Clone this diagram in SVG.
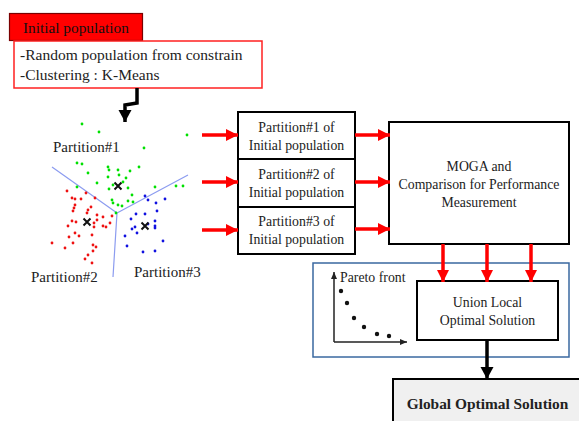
<svg xmlns="http://www.w3.org/2000/svg" width="579" height="421" viewBox="0 0 579 421">
<defs>
<style>
text{font-family:"Liberation Serif","Times New Roman",serif;font-size:14px;fill:#222;}
.box{fill:#fff;stroke:#000;stroke-width:2;}
.c{text-anchor:middle;font-size:13.8px;}
.lbl{font-size:15px;}
.red{stroke:#ff0000;stroke-width:3.5;fill:none;}
.blk{stroke:#000;stroke-width:3.5;fill:none;}
.g{fill:#00e000;}
.r{fill:#ee1111;}
.b{fill:#1010e0;}
.sep{stroke:#8c9cf0;stroke-width:1.2;fill:none;}
.x{stroke:#111;stroke-width:2;}
</style>
<marker id="ra" markerUnits="userSpaceOnUse" markerWidth="14" markerHeight="14" refX="12" refY="6" orient="auto"><path d="M0,0 L12,6 L0,12 Z" fill="#ff0000"/></marker>
<marker id="ba" markerUnits="userSpaceOnUse" markerWidth="14" markerHeight="14" refX="12" refY="6.5" orient="auto"><path d="M0,0 L12,6.5 L0,13 Z" fill="#000"/></marker>
<marker id="sa" markerUnits="userSpaceOnUse" markerWidth="10" markerHeight="10" refX="7" refY="3" orient="auto"><path d="M0,0 L7,3 L0,6 Z" fill="#222"/></marker>
</defs>

<g id="initial-population">
<rect x="9.5" y="13.5" width="133" height="27" fill="#ff0000" stroke="#7a0000" stroke-width="1.2"/>
<text x="23" y="33" style="font-size:15.3px;fill:#111">Initial population</text>
<rect x="14" y="41" width="248" height="47" fill="#fff" stroke="#ff2020" stroke-width="1.5"/>
<text x="20" y="60" style="font-size:15.5px">-Random population from constrain</text>
<text x="20" y="80" style="font-size:15.5px">-Clustering : K-Means</text>
</g>

<g id="scatter">
<path class="sep" d="M117,213 L52,167 M117,213 L188,175 M117,213 L113,277"/>
<g class="g">
<circle cx="82" cy="124" r="1.4"/><circle cx="99" cy="132" r="1.4"/><circle cx="187" cy="135" r="1.4"/><circle cx="144" cy="148" r="1.4"/><circle cx="77" cy="163" r="1.4"/><circle cx="82" cy="164" r="1.4"/><circle cx="108" cy="167" r="1.4"/><circle cx="109" cy="170" r="1.4"/><circle cx="118" cy="170" r="1.4"/><circle cx="130" cy="171" r="1.4"/><circle cx="139" cy="167" r="1.4"/><circle cx="88" cy="173" r="1.4"/><circle cx="119" cy="175" r="1.4"/><circle cx="108" cy="177" r="1.4"/><circle cx="126" cy="178" r="1.4"/><circle cx="97" cy="183" r="1.4"/><circle cx="113" cy="185" r="1.4"/><circle cx="123" cy="182" r="1.4"/><circle cx="155" cy="187" r="1.4"/><circle cx="176" cy="186" r="1.4"/><circle cx="183" cy="186" r="1.4"/><circle cx="128" cy="188" r="1.4"/><circle cx="109" cy="189" r="1.4"/><circle cx="132" cy="195" r="1.4"/><circle cx="133" cy="202" r="1.4"/><circle cx="128" cy="201" r="1.4"/><circle cx="112" cy="200" r="1.4"/><circle cx="118" cy="205" r="1.4"/><circle cx="122" cy="206" r="1.4"/><circle cx="113" cy="203" r="1.4"/><circle cx="77" cy="187" r="1.4"/><circle cx="116" cy="213" r="1.4"/>
</g>
<g class="r">
<circle cx="67" cy="191" r="1.4"/><circle cx="86" cy="193" r="1.4"/><circle cx="95" cy="198" r="1.4"/><circle cx="72" cy="198" r="1.4"/><circle cx="75" cy="199" r="1.4"/><circle cx="81" cy="199" r="1.4"/><circle cx="75" cy="205" r="1.4"/><circle cx="74" cy="208" r="1.4"/><circle cx="91" cy="207" r="1.4"/><circle cx="88" cy="210" r="1.4"/><circle cx="73" cy="211" r="1.4"/><circle cx="87" cy="213" r="1.4"/><circle cx="97" cy="215" r="1.4"/><circle cx="103" cy="217" r="1.4"/><circle cx="112" cy="216" r="1.4"/><circle cx="72" cy="221" r="1.4"/><circle cx="76" cy="222" r="1.4"/><circle cx="68" cy="226" r="1.4"/><circle cx="94" cy="223" r="1.4"/><circle cx="97" cy="220" r="1.4"/><circle cx="103" cy="226" r="1.4"/><circle cx="106" cy="227" r="1.4"/><circle cx="110" cy="223" r="1.4"/><circle cx="94" cy="227" r="1.4"/><circle cx="75" cy="233" r="1.4"/><circle cx="79" cy="236" r="1.4"/><circle cx="69" cy="237" r="1.4"/><circle cx="92" cy="235" r="1.4"/><circle cx="73" cy="243" r="1.4"/><circle cx="52" cy="243" r="1.4"/><circle cx="93" cy="245" r="1.4"/><circle cx="96" cy="247" r="1.4"/><circle cx="65" cy="248" r="1.4"/><circle cx="93" cy="251" r="1.4"/><circle cx="88" cy="255" r="1.4"/><circle cx="85" cy="259" r="1.4"/><circle cx="92" cy="263" r="1.4"/>
</g>
<g class="b">
<circle cx="145" cy="196" r="1.4"/><circle cx="148" cy="200" r="1.4"/><circle cx="165" cy="199" r="1.4"/><circle cx="156" cy="203" r="1.4"/><circle cx="157" cy="211" r="1.4"/><circle cx="136" cy="214" r="1.4"/><circle cx="145" cy="214" r="1.4"/><circle cx="131" cy="219" r="1.4"/><circle cx="155" cy="221" r="1.4"/><circle cx="155" cy="226" r="1.4"/><circle cx="155" cy="228" r="1.4"/><circle cx="135" cy="227" r="1.4"/><circle cx="132" cy="229" r="1.4"/><circle cx="137" cy="233" r="1.4"/><circle cx="125" cy="236" r="1.4"/><circle cx="163" cy="241" r="1.4"/><circle cx="127" cy="246" r="1.4"/><circle cx="143" cy="252" r="1.4"/><circle cx="155" cy="251" r="1.4"/><circle cx="148" cy="224" r="1.4"/>
</g>
<path class="x" d="M114.5,182.5 L121.5,189.5 M121.5,182.5 L114.5,189.5 M83.5,218.5 L90.5,225.5 M90.5,218.5 L83.5,225.5 M141.5,222.5 L148.5,229.5 M148.5,222.5 L141.5,229.5"/>
<text class="lbl" x="53" y="152">Partition#1</text>
<text class="lbl" x="31" y="282">Partition#2</text>
<text class="lbl" x="134" y="277">Partition#3</text>
</g>

<g id="partition1">
<rect class="box" x="238" y="112" width="117" height="47"/>
<text class="c" x="296.5" y="132">Partition#1 of</text>
<text class="c" x="296.5" y="150">Initial population</text>
</g>
<g id="partition2">
<rect class="box" x="238" y="159" width="117" height="48"/>
<text class="c" x="296.5" y="179">Partition#2 of</text>
<text class="c" x="296.5" y="197">Initial population</text>
</g>
<g id="partition3">
<rect class="box" x="238" y="207" width="117" height="47"/>
<text class="c" x="296.5" y="226">Partition#3 of</text>
<text class="c" x="296.5" y="244">Initial population</text>
</g>

<g id="moga">
<rect class="box" x="389" y="122" width="180" height="122"/>
<text class="c" x="479" y="171">MOGA and</text>
<text class="c" x="479" y="189">Comparison for Performance</text>
<text class="c" x="479" y="207">Measurement</text>
</g>

<g id="local-group">
<rect x="313" y="263" width="256" height="94" fill="none" stroke="#3a68a0" stroke-width="1.5"/>
<path d="M334,342 L334,272" stroke="#222" stroke-width="1.5" fill="none" marker-end="url(#sa)"/>
<path d="M334,342 L407,342" stroke="#222" stroke-width="1.5" fill="none" marker-end="url(#sa)"/>
<text x="340" y="282" style="font-size:13.8px">Pareto front</text>
<g fill="#111">
<circle cx="341" cy="291" r="2.2"/><circle cx="347" cy="303" r="2.2"/><circle cx="354" cy="318" r="2.2"/><circle cx="364" cy="327" r="2.2"/><circle cx="377" cy="334" r="2.2"/><circle cx="389" cy="336" r="2.2"/>
</g>
</g>

<g id="union">
<rect class="box" x="417" y="281" width="141" height="59"/>
<text class="c" x="487.5" y="307">Union Local</text>
<text class="c" x="487.5" y="325">Optimal Solution</text>
</g>

<g id="global">
<rect x="393" y="379" width="195" height="50" fill="#f0f0f0" stroke="#000" stroke-width="2"/>
<text x="487.5" y="409" text-anchor="middle" style="font-weight:bold;font-size:15.4px">Global Optimal Solution</text>
</g>

<g id="connectors">
<path class="blk" d="M137,88 L137,103 L125,105 L125,122" marker-end="url(#ba)"/>
<path class="red" d="M202,135 L238,135" marker-end="url(#ra)"/>
<path class="red" d="M202,182 L238,182" marker-end="url(#ra)"/>
<path class="red" d="M202,230 L238,230" marker-end="url(#ra)"/>
<path class="red" d="M355,135 L390,135" marker-end="url(#ra)"/>
<path class="red" d="M355,182 L390,182" marker-end="url(#ra)"/>
<path class="red" d="M355,229 L390,229" marker-end="url(#ra)"/>
<path class="red" d="M443,244 L443,282" marker-end="url(#ra)"/>
<path class="red" d="M487,244 L487,282" marker-end="url(#ra)"/>
<path class="red" d="M531,244 L531,282" marker-end="url(#ra)"/>
<path class="blk" d="M487,340 L487,379" marker-end="url(#ba)"/>
</g>
</svg>
